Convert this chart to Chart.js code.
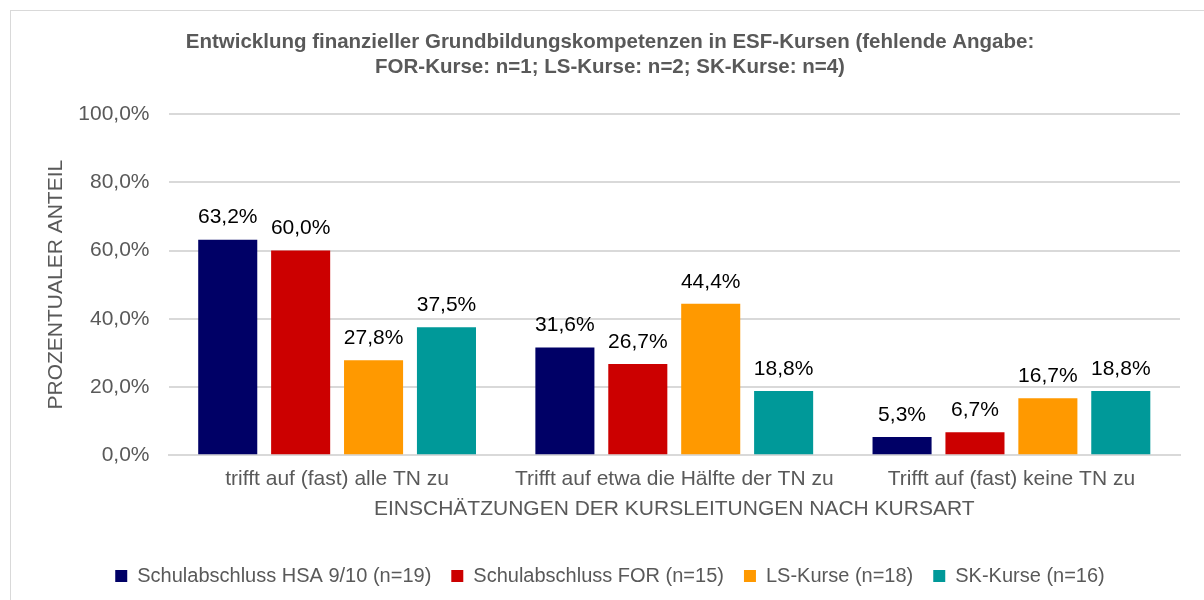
<!DOCTYPE html>
<html>
<head>
<meta charset="utf-8">
<script src="https://cdn.jsdelivr.net/npm/chart.js@4"></script>
<style>
  body { margin: 0; background: #fff; }
  #wrap { position: relative; width: 1204px; height: 600px; overflow: hidden; }
  #frame { position: absolute; left: 10px; top: 10px; width: 1300px; height: 700px; border: 1px solid #d9d9d9; }
  #myChart { position: absolute; left: 0; top: 0; }
</style>
</head>
<body>
<div id="wrap">
  <div id="frame"></div>
  <canvas id="myChart" width="1204" height="600"></canvas>
</div>
<script>
// categories and series
const categories = ['trifft auf (fast) alle TN zu', 'Trifft auf etwa die Hälfte der TN zu', 'Trifft auf (fast) keine TN zu'];
const hsaValues = [63.2, 31.6, 5.3];
const forValues = [60.0, 26.7, 6.7];
const lsValues = [27.8, 44.4, 16.7];
const skValues = [37.5, 18.8, 18.8];
const seriesNames = ['Schulabschluss HSA 9/10 (n=19)', 'Schulabschluss FOR (n=15)', 'LS-Kurse (n=18)', 'SK-Kurse (n=16)'];
const seriesColors = ['#000066', '#cc0000', '#ff9900', '#009999'];
const yTicks = [0, 20, 40, 60, 80, 100];

const fontFamily = '"Liberation Sans", Arial, sans-serif';
const grey = '#595959';

function pct(v) {
    return v.toFixed(1).replace('.', ',') + '%';
}

// draws the value above every bar
const barLabels = {
    id: 'barLabels',
    afterDatasetsDraw(chart) {
        const ctx = chart.ctx;
        ctx.save();
        ctx.font = '21px ' + fontFamily;
        ctx.fillStyle = '#000';
        ctx.textAlign = 'center';
        ctx.textBaseline = 'middle';
        chart.data.datasets.forEach((ds, i) => {
            chart.getDatasetMeta(i).data.forEach((bar, j) => {
                ctx.fillText(pct(ds.data[j]), bar.x, bar.y - 22);
            });
        });
        ctx.restore();
    }
};

const allValues = [hsaValues, forValues, lsValues, skValues];

const ctx = document.getElementById('myChart').getContext('2d');
const myChart = new Chart(ctx, {
    type: 'bar',
    data: {
        labels: categories,
        datasets: seriesNames.map((name, i) => ({
            label: name,
            data: allValues[i],
            backgroundColor: seriesColors[i],
            borderWidth: 0,
            barPercentage: 0.81,
            categoryPercentage: 0.865
        }))
    },
    options: {
        responsive: false,
        animation: false,
        layout: { padding: { top: 20, right: 24, left: 40, bottom: 4 } },
        plugins: {
            title: {
                display: true,
                text: ['Entwicklung finanzieller Grundbildungskompetenzen in ESF-Kursen (fehlende Angabe:', 'FOR-Kurse: n=1; LS-Kurse: n=2; SK-Kurse: n=4)'],
                color: grey,
                font: { family: fontFamily, size: 20.5, weight: 'bold', lineHeight: 1.2 },
                padding: { top: 10, bottom: 35 }
            },
            legend: {
                position: 'bottom',
                labels: {
                    color: grey,
                    font: { family: fontFamily, size: 20 },
                    boxWidth: 12,
                    boxHeight: 12,
                    padding: 20
                }
            },
            tooltip: { enabled: false }
        },
        scales: {
            x: {
                grid: { display: false, drawTicks: false },
                border: { color: '#d9d9d9', width: 2 },
                ticks: { color: grey, font: { family: fontFamily, size: 21 }, padding: 11 },
                title: {
                    display: true,
                    text: 'EINSCHÄTZUNGEN DER KURSLEITUNGEN NACH KURSART',
                    color: grey,
                    font: { family: fontFamily, size: 21, lineHeight: 0.65 },
                    padding: { top: 0, bottom: 30 }
                }
            },
            y: {
                min: 0,
                max: 100,
                afterBuildTicks(axis) {
                    axis.ticks = yTicks.map(v => ({ value: v }));
                },
                grid: { color: '#d9d9d9', lineWidth: 2, drawTicks: false },
                border: { display: false },
                ticks: {
                    color: grey,
                    font: { family: fontFamily, size: 21 },
                    padding: 19,
                    callback: v => pct(v)
                },
                title: {
                    display: true,
                    text: 'PROZENTUALER ANTEIL',
                    color: grey,
                    font: { family: fontFamily, size: 21, lineHeight: 0.3 },
                    padding: { top: 13, bottom: 0 }
                }
            }
        }
    },
    plugins: [barLabels]
});
</script>
</body>
</html>
